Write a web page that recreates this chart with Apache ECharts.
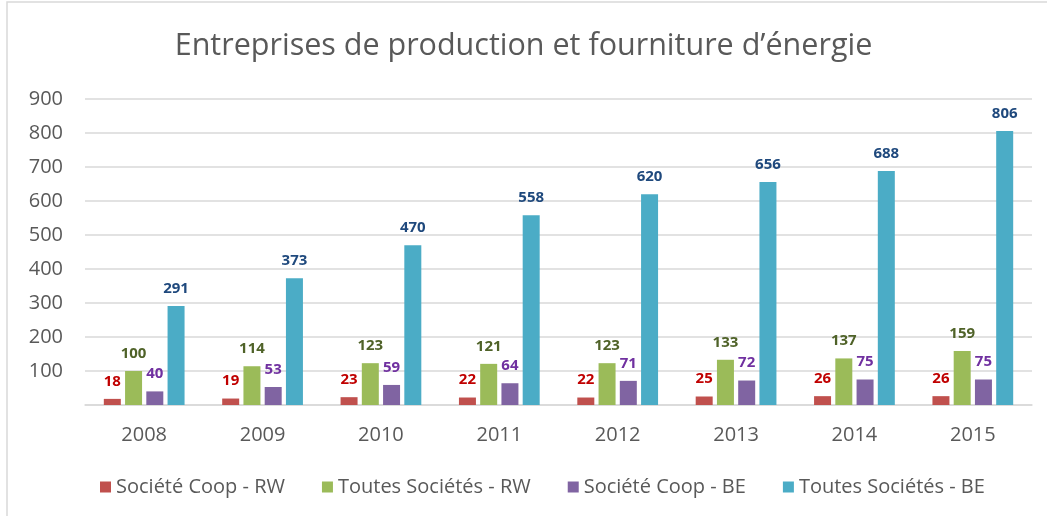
<!DOCTYPE html>
<html>
<head>
<meta charset="utf-8">
<script src="https://cdn.jsdelivr.net/npm/echarts@6/dist/echarts.min.js"></script>
<style>
  html, body { margin: 0; padding: 0; background: #fff; }
  #chart { width: 1047px; height: 516px; }
</style>
</head>
<body>
<div id="chart"></div>
<script>
const years = ["2008", "2009", "2010", "2011", "2012", "2013", "2014", "2015"];
const coopRW = [18, 19, 23, 22, 22, 25, 26, 26];
const toutesRW = [100, 114, 123, 121, 123, 133, 137, 159];
const coopBE = [40, 53, 59, 64, 71, 72, 75, 75];
const toutesBE = [291, 373, 470, 558, 620, 656, 688, 806];

const font = "'Open Sans', 'Noto Sans', sans-serif";

// one bar series per column, labels on top
const bar = (name, data, color, labelColor) => ({
  name: name,
  type: "bar",
  data: data,
  barWidth: 17,
  barGap: "25%",
  itemStyle: { color: color },
  label: {
    show: true,
    position: "top",
    distance: 10,
    color: labelColor,
    fontWeight: "bold",
    fontSize: 15,
    fontFamily: font,
  },
});

const chart = echarts.init(document.getElementById("chart"));
chart.setOption({
  animation: false,
  title: {
    text: "Entreprises de production et fourniture d’énergie",
    left: "center",
    top: 26,
    textStyle: { color: "#595959", fontSize: 30.5, fontWeight: "normal", fontFamily: font },
  },
  graphic: [
    {
      type: "rect",
      shape: { x: 7, y: 2, width: 1045, height: 520 },
      style: { fill: "none", stroke: "#D9D9D9", lineWidth: 1.5 },
      silent: true,
    },
  ],
  legend: {
    bottom: 14,
    left: 95,
    itemWidth: 11,
    itemHeight: 11,
    itemGap: 37,
    icon: "rect",
    textStyle: { color: "#595959", fontSize: 20, fontFamily: font },
  },
  grid: { left: 85, right: 15, top: 99, bottom: 111 },
  xAxis: {
    type: "category",
    data: years,
    axisLine: { lineStyle: { color: "#D9D9D9", width: 1.5 } },
    axisTick: { show: false },
    axisLabel: { color: "#595959", fontSize: 20, margin: 20, fontFamily: font },
  },
  yAxis: {
    type: "value",
    min: 0,
    max: 900,
    interval: 100,
    axisLine: { show: false },
    axisTick: { show: false },
    splitLine: { lineStyle: { color: "#D9D9D9", width: 1.5 } },
    axisLabel: {
      color: "#595959",
      fontSize: 20,
      margin: 22,
      fontFamily: font,
      formatter: (v) => (v === 0 ? "" : v),
    },
  },
  series: [
    bar("Société Coop - RW", coopRW, "#C0504D", "#C00000"),
    bar("Toutes Sociétés - RW", toutesRW, "#9BBB59", "#4F6228"),
    bar("Société Coop - BE", coopBE, "#8064A2", "#7030A0"),
    bar("Toutes Sociétés - BE", toutesBE, "#4BACC6", "#1F497D"),
  ],
});
</script>
</body>
</html>
